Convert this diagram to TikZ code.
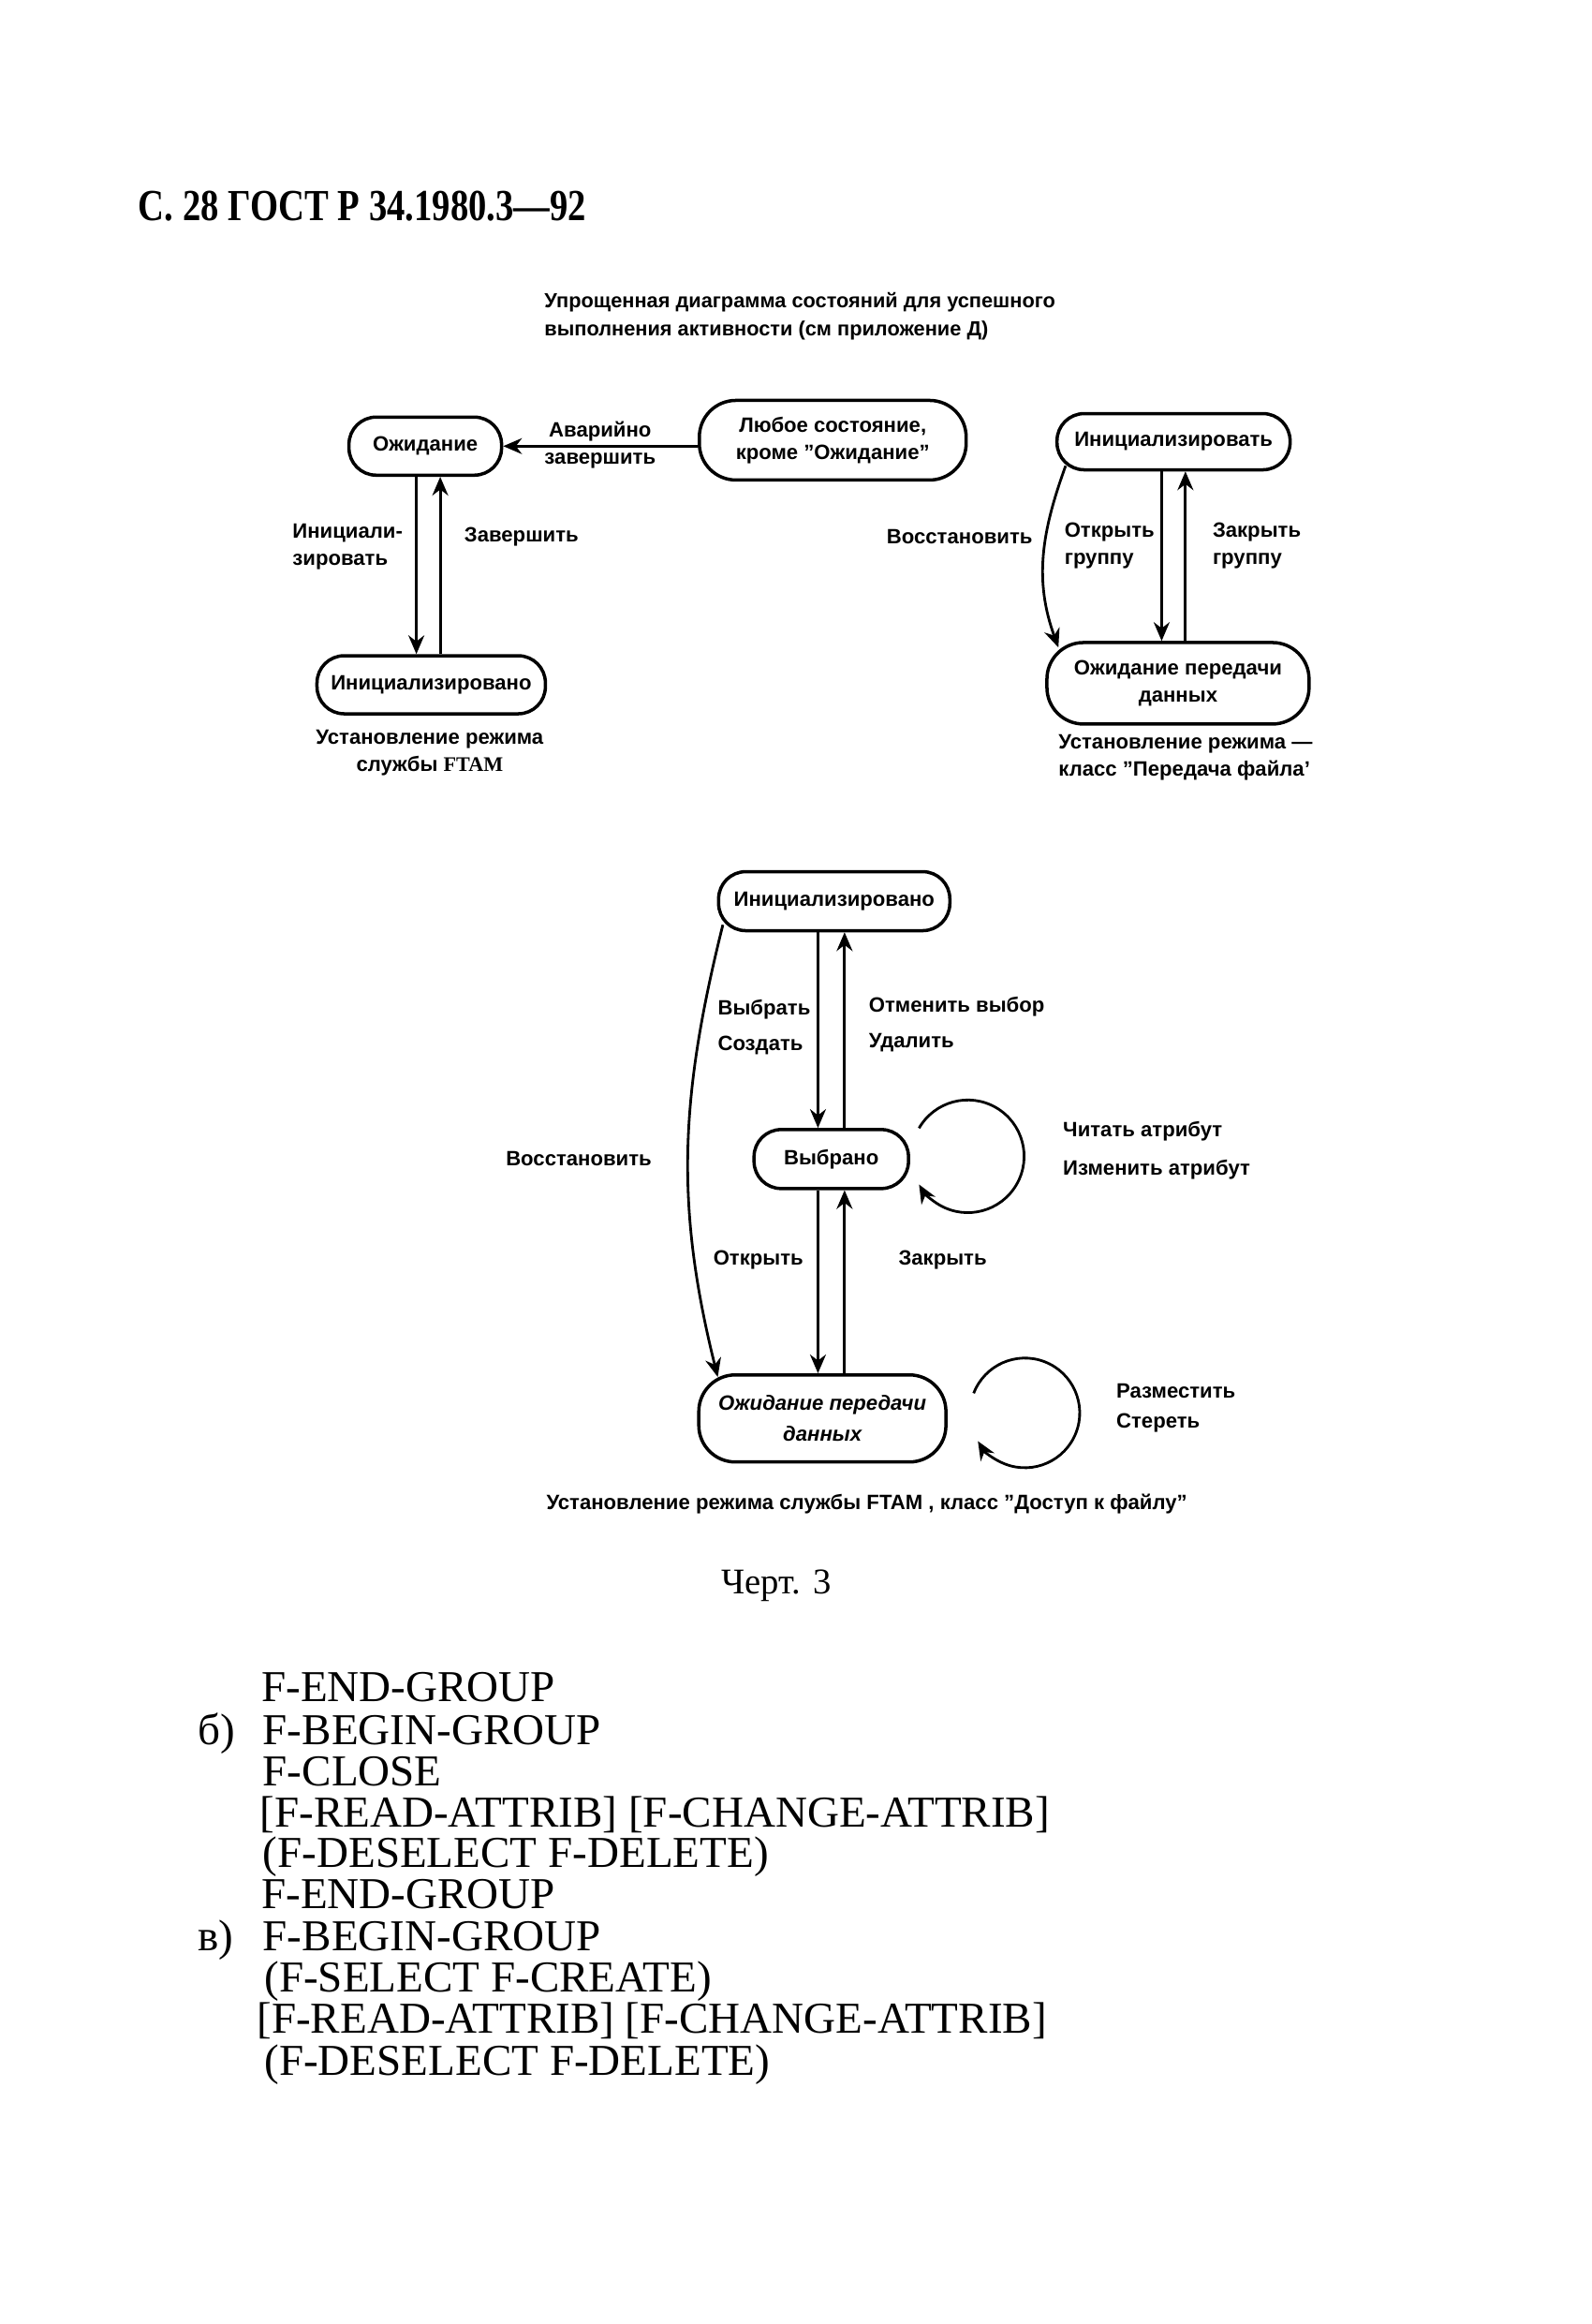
\documentclass[tikz,border=0pt]{standalone}
\usepackage{fontspec}
\setmainfont{Liberation Serif}
\setsansfont{Liberation Sans}
\usepackage{graphicx}
\usetikzlibrary{arrows.meta}

\newcommand{\dfont}{\sffamily\bfseries\fontsize{6.3}{8.2}\selectfont}
\newcommand{\bigtext}{\rmfamily\fontsize{13.4}{13.4}\selectfont}

\tikzset{
    state/.style={draw, line width=1pt, rounded corners=2.9mm, align=center, inner sep=0pt, minimum height=6.2mm, font=\dfont},
    tallstate/.style={state, rounded corners=3.9mm},
    lbl/.style={inner sep=0pt, font=\dfont},
    trans/.style={line width=0.8pt, ->},
    codeline/.style={inner sep=0pt, anchor=base west, font=\bigtext},
}

\begin{document}
\begin{tikzpicture}[x=0.15829mm, y=0.15829mm, >={Stealth[length=2mm, width=1.7mm]}]
        \useasboundingbox (0,0) rectangle (1074,-1568);

        \node[anchor=base west, inner sep=0pt, font=\rmfamily\bfseries\fontsize{13.5}{15}\selectfont] (head) at (93,-149) {\scalebox{0.815}[1]{С. 28 ГОСТ Р 34.1980.3—92}};

        \node[lbl, anchor=north west, align=left, font=\sffamily\bfseries\fontsize{6.2}{8.5}\selectfont] (title) at (367,-197) {Упрощенная диаграмма состояний для успешного\\выполнения активности  (см приложение Д)};

        % left diagram
        \node[state, minimum width=16.3mm] (wait) at (287,-301) {Ожидание};
        \node[tallstate, minimum width=28.5mm, minimum height=8.5mm] (anystate) at (562,-297) {Любое состояние,\\кроме ''Ожидание''};
        \node[state, minimum width=24.4mm] (init) at (291,-462) {Инициализировано};

        \draw[trans] (anystate.west |- wait.east) -- (wait.east);
        \draw[trans] ([xshift=-0.95mm]wait.south) -- ([xshift=-0.95mm]wait.south |- init.north);
        \draw[trans] ([xshift=1.6mm]wait.south |- init.north) -- ([xshift=1.6mm]wait.south);

        \node[lbl, align=center] (abort) at (405,-300) {Аварийно\\завершить};
        \node[lbl, anchor=west, align=left] (initlbl) at (197,-369) {Инициали-\\зировать};
        \node[lbl, anchor=west] (endlbl) at (313,-362) {Завершить};
        \node[lbl, align=center] (cap1) at (290,-508) {Установление режима\\службы {\rmfamily FTAM}};

        % right diagram
        \node[state, minimum width=24.9mm, minimum height=6mm] (initgrp) at (792,-298) {Инициализировать};
        \node[tallstate, minimum width=28mm, minimum height=8.7mm] (waitdata) at (795,-461) {Ожидание передачи\\данных};

        \draw[trans] ([xshift=-1.27mm]initgrp.south) -- ([xshift=-1.27mm]initgrp.south |- waitdata.north);
        \draw[trans] ([xshift=1.27mm]initgrp.south |- waitdata.north) -- ([xshift=1.27mm]initgrp.south);
        \draw[trans] ([shift={(1.1mm,0.6mm)}]initgrp.south west) to[out=250, in=110] ([shift={(1.4mm,-0.7mm)}]waitdata.north west);

        \node[lbl, anchor=west] (restore1) at (598,-362) {Восстановить};
        \node[lbl, anchor=west, align=left] (opengrp) at (718,-368) {Открыть\\группу};
        \node[lbl, anchor=west, align=left] (closegrp) at (818,-368) {Закрыть\\группу};
        \node[lbl, anchor=west, align=left] (cap2) at (714,-511) {Установление режима —\\класс ''Передача файла'};

        % bottom diagram
        \node[state, minimum width=24.7mm, minimum height=6.3mm] (initsel) at (563,-608) {Инициализировано};
        \node[state, minimum width=16.5mm, minimum height=6.3mm] (sel) at (561,-782) {Выбрано};
        \node[tallstate, minimum width=26.4mm, minimum height=9.3mm, font=\dfont\itshape] (waitacc) at (555,-957) {Ожидание передачи\\[1.2pt]данных};

        \draw[trans] ([xshift=-1.42mm]sel.north |- initsel.south) -- ([xshift=-1.42mm]sel.north);
        \draw[trans] ([xshift=1.42mm]sel.north) -- ([xshift=1.42mm]sel.north |- initsel.south);
        \draw[trans] ([xshift=-1.42mm]sel.south) -- ([xshift=-1.42mm]sel.south |- waitacc.north);
        \draw[trans] ([xshift=1.42mm]sel.south |- waitacc.north) -- ([xshift=1.42mm]sel.south);
        \draw[trans] ([shift={(0.63mm,0.8mm)}]initsel.south west) to[out=256, in=104] ([shift={(2.2mm,-0.4mm)}]waitacc.north west);
        \draw[trans] ([shift={(0.95mm,3.3mm)}]sel.east) arc[start angle=150, end angle=-150, radius=38];
        \draw[trans] ([shift={(2.79mm,2.69mm)}]waitacc.east) arc[start angle=159, end angle=-149, radius=37];

        \node[lbl, anchor=west, align=left] (selcreate) at (484,-693) {Выбрать\\[2.6pt]Создать};
        \node[lbl, anchor=west, align=left] (deseldel) at (586,-691) {Отменить выбор\\[2.6pt]Удалить};
        \node[lbl, anchor=west] (restore2) at (341,-782) {Восстановить};
        \node[lbl, anchor=west] (openlbl) at (481,-850) {Открыть};
        \node[lbl, anchor=west] (closelbl) at (606,-850) {Закрыть};
        \node[lbl, anchor=west, align=left] (attrlbl) at (717,-776) {Читать атрибут\\[3.5pt]Изменить атрибут};
        \node[lbl, anchor=west, align=left] (putlbl) at (753,-950) {Разместить\\[0.8pt]Стереть};
        \node[lbl] (cap3) at (585,-1015) {Установление режима службы FTAM , класс ''Доступ к файлу''};

        \node[inner sep=0pt, font=\rmfamily\fontsize{11}{13}\selectfont] (chert) at (524,-1070) {Черт. 3};

        % text below the figure
        \node[codeline] (l1) at (176,-1148) {F-END-GROUP};
        \node[codeline] (itemb) at (133,-1177) {б)};
        \node[codeline] (l2) at (177,-1177) {F-BEGIN-GROUP};
        \node[codeline] (l3) at (177,-1205) {F-CLOSE};
        \node[codeline] (l4) at (175,-1233) {[F-READ-ATTRIB] [F-CHANGE-ATTRIB]};
        \node[codeline] (l5) at (177,-1260) {(F-DESELECT F-DELETE)};
        \node[codeline] (l6) at (176,-1288) {F-END-GROUP};
        \node[codeline] (itemv) at (133,-1316) {в)};
        \node[codeline] (l7) at (177,-1316) {F-BEGIN-GROUP};
        \node[codeline] (l8) at (178,-1344) {(F-SELECT F-CREATE)};
        \node[codeline] (l9) at (173,-1372) {[F-READ-ATTRIB] [F-CHANGE-ATTRIB]};
        \node[codeline] (l10) at (178,-1400) {(F-DESELECT F-DELETE)};
\end{tikzpicture}
\end{document}
